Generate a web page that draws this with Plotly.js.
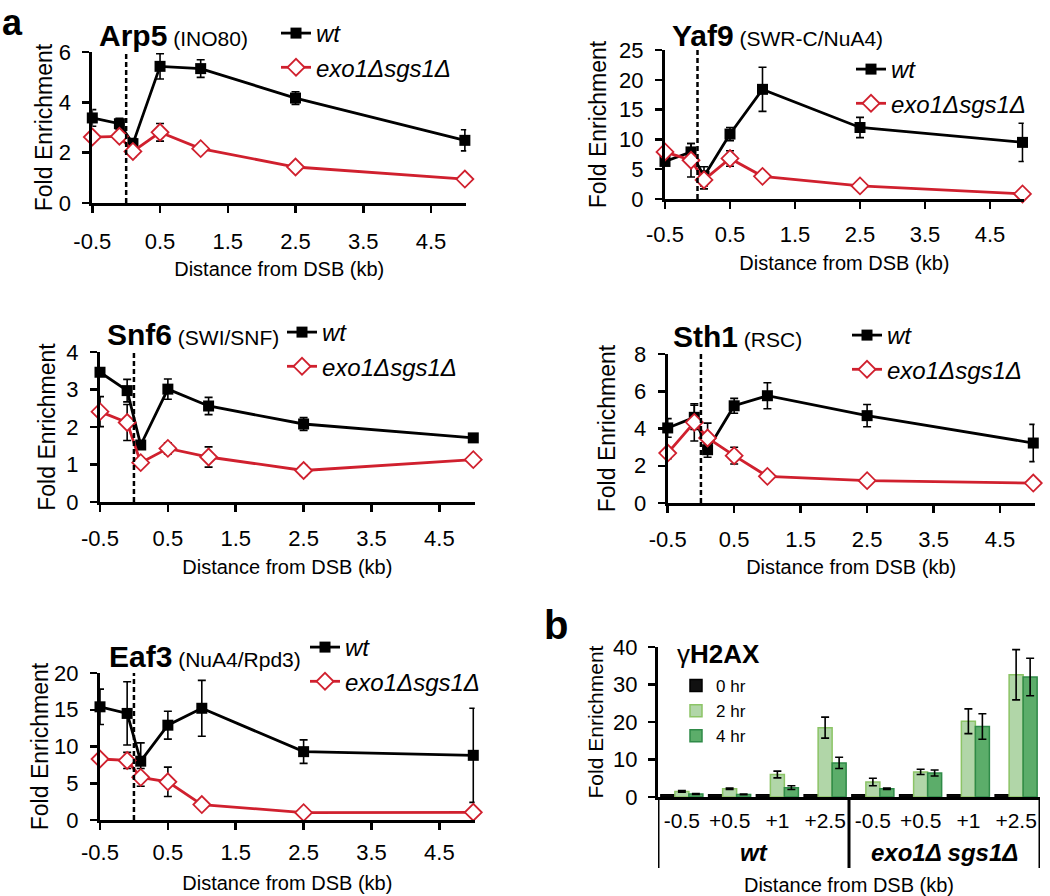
<!DOCTYPE html>
<html><head><meta charset="utf-8">
<script src="https://cdn.plot.ly/plotly-3.0.1.min.js"></script>
<style>html,body{margin:0;padding:0;background:#fff}#chart{width:1050px;height:896px}</style>
</head><body><div id="chart"></div>
<script>
// ---------- DATA ----------
const arp5X = [-0.5, -0.1, 0.1, 0.5, 1.1, 2.5, 5.0];
const arp5Wt = [3.38, 3.15, 2.36, 5.43, 5.34, 4.17, 2.49];
const arp5WtErr = [0.33, 0.22, 0.2, 0.5, 0.35, 0.25, 0.42];
const arp5Exo = [2.62, 2.65, 2.05, 2.81, 2.16, 1.43, 0.95];
const arp5ExoErr = [0.08, 0.15, 0.2, 0.35, 0.08, 0.05, 0.04];

const yaf9X = [-0.5, -0.1, 0.1, 0.5, 1.0, 2.5, 5.0];
const yaf9Wt = [6.3, 7.9, 3.8, 10.9, 18.4, 12.0, 9.5];
const yaf9WtErr = [0.6, 1.4, 1.6, 1.1, 3.7, 1.7, 3.2];
const yaf9Exo = [7.9, 6.5, 3.2, 6.8, 3.8, 2.2, 0.85];
const yaf9ExoErr = [0.3, 2.8, 1.5, 1.3, 0.5, 0.2, 0.1];

const snf6X = [-0.5, -0.1, 0.1, 0.5, 1.1, 2.5, 5.0];
const snf6Wt = [3.46, 2.97, 1.52, 3.01, 2.56, 2.08, 1.71];
const snf6WtErr = [0.1, 0.3, 0.1, 0.27, 0.23, 0.17, 0.05];
const snf6Exo = [2.41, 2.12, 1.05, 1.43, 1.2, 0.84, 1.13];
const snf6ExoErr = [0.4, 0.48, 0.1, 0.15, 0.27, 0.13, 0.04];

const sth1X = [-0.5, -0.1, 0.1, 0.5, 1.0, 2.5, 5.0];
const sth1Wt = [4.03, 4.6, 2.86, 5.22, 5.76, 4.69, 3.22];
const sth1WtErr = [0.5, 0.65, 0.4, 0.4, 0.7, 0.6, 1.0];
const sth1Exo = [2.68, 4.33, 3.49, 2.54, 1.43, 1.2, 1.07];
const sth1ExoErr = [0.3, 1.0, 0.8, 0.45, 0.2, 0.05, 0.05];

const eaf3X = [-0.5, -0.1, 0.1, 0.5, 1.0, 2.5, 5.0];
const eaf3Wt = [15.4, 14.5, 8.0, 12.9, 15.2, 9.3, 8.8];
const eaf3WtErr = [2.4, 4.3, 2.5, 1.9, 3.8, 1.6, 6.4];
const eaf3Exo = [8.3, 8.1, 5.8, 5.2, 2.1, 1.0, 1.05];
const eaf3ExoErr = [0.2, 1.1, 1.2, 2.0, 0.5, 0.1, 0.1];

const seriesNames = ['wt', 'exo1\u0394sgs1\u0394'];
const xTickVals = [-0.5, 0.5, 1.5, 2.5, 3.5, 4.5];
const xTickText = ['-0.5', '0.5', '1.5', '2.5', '3.5', '4.5'];

// panel b
const bGroups = ['wt', 'exo1\u0394 sgs1\u0394'];
const bPositions = ['-0.5', '+0.5', '+1', '+2.5'];
const bTimes = ['0 hr', '2 hr', '4 hr'];
const b0hr = [0.6, 0.6, 0.6, 0.6, 0.6, 0.6, 0.6, 0.6];
const b2hr = [1.5, 2.2, 6.0, 18.5, 4.0, 6.7, 20.2, 32.6];
const b2hrErr = [0.2, 0.2, 0.9, 2.8, 1.0, 0.7, 3.3, 6.7];
const b4hr = [0.8, 0.7, 2.5, 9.1, 2.2, 6.4, 18.8, 32.0];
const b4hrErr = [0.1, 0.1, 0.5, 1.5, 0.2, 0.8, 3.4, 5.0];

// ---------- LAYOUT HELPERS ----------
const W = 1050, H = 896;
const px = v => v / W;
const py = v => 1 - v / H;
const FONT = 'Liberation Sans, Arial, sans-serif';
const RED = '#d0202e';

const panels = [
  {id: '', name: 'Arp5', sub: 'INO80', x: arp5X, wt: arp5Wt, wtE: arp5WtErr, exo: arp5Exo, exoE: arp5ExoErr,
   ymax: 6, dtick: 2, xl: 92.3, ppk: 67.74, yb: 203, yt: 52, title: [97, 35], leg: [276, 11], ys: 0, tls: 10, xs: 9},
  {id: '2', name: 'Yaf9', sub: 'SWR-C/NuA4', x: yaf9X, wt: yaf9Wt, wtE: yaf9WtErr, exo: yaf9Exo, exoE: yaf9ExoErr,
   ymax: 25, dtick: 5, xl: 665, ppk: 65, yb: 199, yt: 50, title: [670, 35], leg: [851, 47], ys: 7, tls: 7, xs: 10},
  {id: '3', name: 'Snf6', sub: 'SWI/SNF', x: snf6X, wt: snf6Wt, wtE: snf6WtErr, exo: snf6Exo, exoE: snf6ExoErr,
   ymax: 4, dtick: 1, xl: 100, ppk: 67.87, yb: 502, yt: 352, title: [105, 334], leg: [282, 310], ys: 5, tls: 8, xs: 10},
  {id: '4', name: 'Sth1', sub: 'RSC', x: sth1X, wt: sth1Wt, wtE: sth1WtErr, exo: sth1Exo, exoE: sth1ExoErr,
   ymax: 8, dtick: 2, xl: 667.7, ppk: 66.47, yb: 503, yt: 354, title: [671, 336], leg: [847, 313], ys: 12, tls: 8, xs: 9},
  {id: '5', name: 'Eaf3', sub: 'NuA4/Rpd3', x: eaf3X, wt: eaf3Wt, wtE: eaf3WtErr, exo: eaf3Exo, exoE: eaf3ExoErr,
   ymax: 20, dtick: 5, xl: 100, ppk: 67.87, yb: 820, yt: 673, title: [107, 656], leg: [305, 625], ys: 0, tls: 4, xs: 12}
];

const traces = [];
const layout = {
  width: W, height: H,
  margin: {l: 0, r: 0, t: 0, b: 0},
  paper_bgcolor: '#fff', plot_bgcolor: 'rgba(0,0,0,0)',
  font: {family: FONT, color: '#000'},
  showlegend: true,
  annotations: [], shapes: [],
  barmode: 'group', bargap: 0.12, bargroupgap: 0
};

const axisCommon = {
  showgrid: false, zeroline: false, showline: true, linecolor: '#000', linewidth: 3,
  ticks: 'outside', tickcolor: '#000', tickwidth: 2.5, ticklen: 7,
  tickfont: {family: FONT, size: 22, color: '#000'}, fixedrange: true
};

panels.forEach((p, i) => {
  const xa = 'x' + p.id, ya = 'y' + p.id;
  const legKey = 'legend' + p.id;
  traces.push({
    type: 'scatter', mode: 'lines+markers', x: p.x, y: p.wt, name: seriesNames[0],
    xaxis: xa, yaxis: ya, legend: legKey, cliponaxis: false,
    line: {color: '#000', width: 2.8},
    marker: {symbol: 'square', size: 11, color: '#000'},
    error_y: {type: 'data', array: p.wtE, visible: true, color: '#000', thickness: 1.6, width: 4}
  });
  traces.push({
    type: 'scatter', mode: 'lines+markers', x: p.x, y: p.exo, name: seriesNames[1],
    xaxis: xa, yaxis: ya, legend: legKey, cliponaxis: false,
    line: {color: RED, width: 2.8},
    marker: {symbol: 'diamond', size: 13, color: '#fff', line: {color: RED, width: 1.8}},
    error_y: {type: 'data', array: p.exoE, visible: true, color: '#000', thickness: 1.6, width: 4}
  });
  const xr = p.xl + 5.52 * p.ppk;
  layout['xaxis' + p.id] = Object.assign({}, axisCommon, {
    anchor: ya, domain: [px(p.xl), px(xr)], range: [-0.5, 5.02],
    tickmode: 'array', tickvals: xTickVals, ticktext: xTickText, ticklabelstandoff: p.tls,
    title: {text: 'Distance from DSB (kb)', font: {family: FONT, size: 20}, standoff: p.xs}
  });
  layout['yaxis' + p.id] = Object.assign({}, axisCommon, {
    anchor: xa, domain: [py(p.yb), py(p.yt)], range: [0, p.ymax], dtick: p.dtick,
    ticklabelstandoff: 7,
    title: {text: 'Fold Enrichment', font: {family: FONT, size: 23}, standoff: p.ys}
  });
  layout.shapes.push({
    type: 'line', xref: xa, yref: ya + ' domain', x0: 0, x1: 0, y0: 0, y1: 1,
    line: {color: '#000', width: 2.5, dash: '5px,3px'}
  });
  layout.annotations.push({
    xref: 'paper', yref: 'paper', x: px(p.title[0]), y: py(p.title[1]),
    xanchor: 'left', yanchor: 'middle', showarrow: false,
    text: '<b>' + p.name + '</b><span style="font-size:21px"> (' + p.sub + ')</span>',
    font: {family: FONT, size: 30, color: '#000'}
  });
  layout[legKey] = {
    x: px(p.leg[0]), y: py(p.leg[1]), xanchor: 'left', yanchor: 'top',
    bgcolor: 'rgba(0,0,0,0)', borderwidth: 0, itemwidth: 30, tracegroupgap: 0,
    font: {family: FONT, size: 24, style: 'italic', color: '#000'}
  };
});

// ---------- panel b ----------
const bCats = [], bLabels = [];
bGroups.forEach(g => bPositions.forEach(c => { bCats.push(g + ' ' + c); bLabels.push(c); }));
const nPer = bPositions.length;
const bStyle = [
  {fill: '#111', line: '#000'},
  {fill: '#b1d6a8', line: '#8cc466'},
  {fill: '#5cad6a', line: '#2f8a48'}
];
[[b0hr, null], [b2hr, b2hrErr], [b4hr, b4hrErr]].forEach((d, i) => {
  const t = {
    type: 'bar', x: bCats, y: d[0], name: bTimes[i], xaxis: 'x6', yaxis: 'y6', legend: 'legend6',
    marker: {color: bStyle[i].fill, line: {color: bStyle[i].line, width: 1.5}}
  };
  if (d[1]) t.error_y = {type: 'data', array: d[1], visible: true, color: '#000', thickness: 1.6, width: 4};
  traces.push(t);
});
layout.xaxis6 = {
  anchor: 'y6', domain: [px(658), px(1040)], type: 'category', tickangle: 0,
  categoryorder: 'array', categoryarray: bCats, range: [-0.5, bCats.length - 0.5],
  tickmode: 'array', tickvals: bCats, ticktext: bLabels,
  showgrid: false, zeroline: false, showline: true, linecolor: '#000', linewidth: 3,
  ticks: '', ticklabelstandoff: 3,
  tickfont: {family: FONT, size: 21, color: '#000'}, fixedrange: true,
  title: {text: 'Distance from DSB (kb)', font: {family: FONT, size: 20}, standoff: 54}
};
layout.yaxis6 = Object.assign({}, axisCommon, {
  anchor: 'x6', domain: [py(797), py(647)], range: [0, 40], dtick: 10, ticklabelstandoff: 6,
  title: {text: 'Fold Enrichment', font: {family: FONT, size: 21}, standoff: 4}
});
// group dividers and group labels
for (let k = 0; k <= bGroups.length; k++) {
  layout.shapes.push({
    type: 'line', xref: 'x6', yref: 'paper', x0: k * nPer - 0.5, x1: k * nPer - 0.5,
    y0: py(797), y1: py(868), line: {color: '#000', width: 3}
  });
}
bGroups.forEach((g, k) => {
  layout.annotations.push({
    xref: 'x6', yref: 'paper', x: k * nPer + (nPer - 1) / 2, y: py(852),
    xanchor: 'center', yanchor: 'middle', showarrow: false,
    text: '<b><i>' + g + '</i></b>', font: {family: FONT, size: 24, color: '#000'}
  });
});
layout.legend6 = {
  x: px(676), y: py(668), xanchor: 'left', yanchor: 'top',
  bgcolor: 'rgba(0,0,0,0)', borderwidth: 0, itemwidth: 30, tracegroupgap: 0,
  font: {family: FONT, size: 17, color: '#000'}
};
layout.annotations.push({
  xref: 'paper', yref: 'paper', x: px(675), y: py(654), xanchor: 'left', yanchor: 'middle',
  showarrow: false, text: '\u03b3<b>H2AX</b>', font: {family: FONT, size: 26, color: '#000'}
});
// panel letters
layout.annotations.push({xref: 'paper', yref: 'paper', x: px(0), y: py(0), xanchor: 'left', yanchor: 'top',
  showarrow: false, text: '<b>a</b>', font: {family: FONT, size: 36, color: '#000'}});
layout.annotations.push({xref: 'paper', yref: 'paper', x: px(542), y: py(601), xanchor: 'left', yanchor: 'top',
  showarrow: false, text: '<b>b</b>', font: {family: FONT, size: 40, color: '#000'}});

Plotly.newPlot('chart', traces, layout, {staticPlot: true});
</script></body></html>
